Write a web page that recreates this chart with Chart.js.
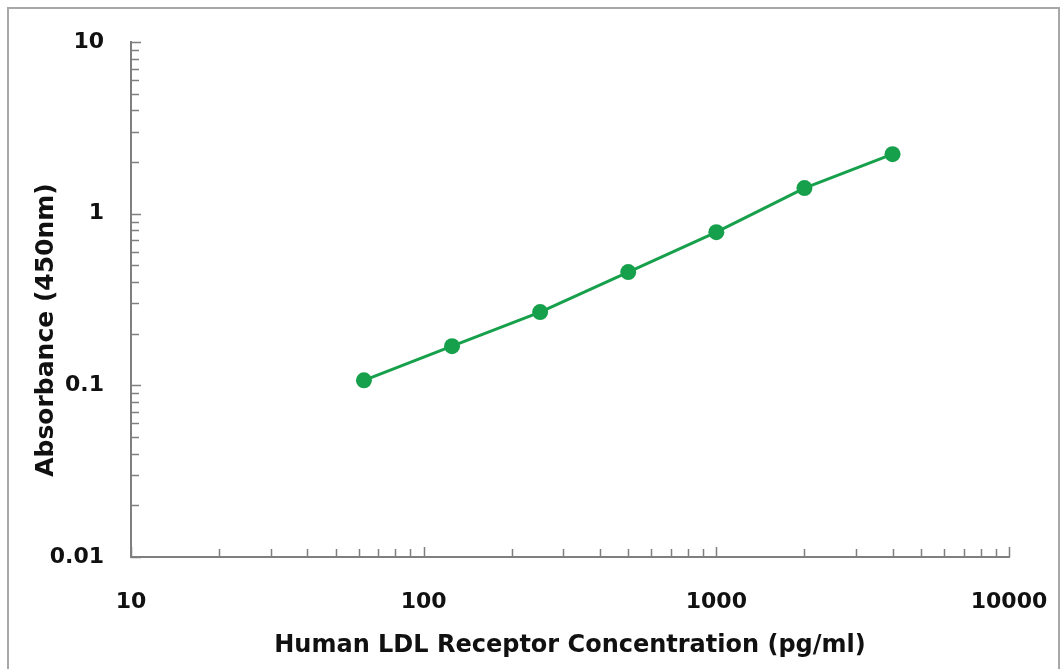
<!DOCTYPE html>
<html>
<head>
<meta charset="utf-8">
<script src="https://cdn.jsdelivr.net/npm/chart.js@4.4.1/dist/chart.umd.min.js"></script>
<style>
  html, body { margin: 0; padding: 0; background: #fff; }
  #wrap { width: 1061px; height: 669px; }
</style>
</head>
<body>
<div id="wrap"><canvas id="chart" width="1061" height="669"></canvas></div>
<script>
var concentrations = [62.5, 125, 250, 500, 1000, 2000, 4000];
var absorbance = [0.107, 0.169, 0.267, 0.457, 0.78, 1.41, 2.22];
var xTickValues = [10, 100, 1000, 10000];
var xTickLabels = ['10', '100', '1000', '10000'];
var yTickValues = [0.01, 0.1, 1, 10];
var yTickLabels = ['0.01', '0.1', '1', '10'];
var xTitle = 'Human LDL Receptor Concentration (pg/ml)';
var yTitle = 'Absorbance (450nm)';

var green = '#17a04b';
var axisGrey = '#7f7f7f';
var fontFamily = '"DejaVu Sans", Arial, sans-serif';

// 1..9 x each decade, with the powers of ten flagged as major
function logTicks(majors) {
    var ticks = [];
    for (var i = 0; i < majors.length - 1; i++) {
        ticks.push({ value: majors[i], major: true });
        for (var k = 2; k <= 9; k++) {
            ticks.push({ value: parseFloat((majors[i] * k).toPrecision(6)), major: false });
        }
    }
    ticks.push({ value: majors[majors.length - 1], major: true });
    return ticks;
}

function labelFor(values, labels) {
    return function(value) {
        var i = values.indexOf(value);
        return i >= 0 ? labels[i] : '';
    };
}

var points = [];
for (var i = 0; i < concentrations.length; i++) {
    points.push({ x: concentrations[i], y: absorbance[i] });
}

// outer frame, tick marks drawn inside the plot, rotated y title
var decorations = {
    id: 'decorations',
    beforeDraw: function(chart) {
        var ctx = chart.ctx;
        ctx.save();
        ctx.strokeStyle = '#a8a8a8';
        ctx.lineWidth = 2;
        ctx.beginPath();
        ctx.moveTo(8, chart.height + 5);
        ctx.lineTo(8, 8);
        ctx.lineTo(chart.width - 2, 8);
        ctx.lineTo(chart.width - 2, chart.height + 5);
        ctx.stroke();
        ctx.restore();
    },
    afterDraw: function(chart) {
        var ctx = chart.ctx;
        var area = chart.chartArea;
        var xs = chart.scales.x, ys = chart.scales.y;
        ctx.save();
        ctx.strokeStyle = axisGrey;
        ctx.lineWidth = 1.5;
        ctx.beginPath();
        xs.ticks.forEach(function(t) {
            var px = Math.round(xs.getPixelForValue(t.value)) + 0.5;
            ctx.moveTo(px, area.bottom);
            ctx.lineTo(px, area.bottom - (t.major ? 10 : 8));
        });
        ys.ticks.forEach(function(t) {
            var py = Math.round(ys.getPixelForValue(t.value)) + 0.5;
            ctx.moveTo(area.left, py);
            ctx.lineTo(area.left + (t.major ? 10 : 8), py);
        });
        ctx.stroke();

        ctx.translate(46, 330);
        ctx.rotate(-Math.PI / 2);
        ctx.fillStyle = '#111';
        ctx.font = 'bold 25px ' + fontFamily;
        ctx.textAlign = 'center';
        ctx.textBaseline = 'middle';
        ctx.fillText(yTitle, 0, 0);
        ctx.restore();
    }
};

new Chart(document.getElementById('chart'), {
    type: 'scatter',
    data: {
        datasets: [{
            data: points,
            showLine: true,
            borderColor: green,
            borderWidth: 3,
            backgroundColor: green,
            pointRadius: 8,
            pointBorderWidth: 0,
            pointHoverRadius: 8,
            tension: 0
        }]
    },
    options: {
        responsive: false,
        animation: false,
        layout: { padding: { left: 0, top: 42, right: 52, bottom: 0 } },
        plugins: {
            legend: { display: false },
            tooltip: { enabled: false }
        },
        scales: {
            x: {
                type: 'logarithmic',
                min: 10,
                max: 10000,
                afterBuildTicks: function(scale) { scale.ticks = logTicks(xTickValues); },
                afterFit: function(scale) {
                    scale.height = 112;
                    // let the layout padding alone decide where the plot ends
                    scale.paddingLeft = 0;
                    scale.paddingRight = 0;
                },
                grid: { display: false },
                border: { display: true, color: axisGrey, width: 2 },
                ticks: {
                    autoSkip: false,
                    maxRotation: 0,
                    padding: 24,
                    color: '#111',
                    font: { family: fontFamily, size: 22, weight: 'bold' },
                    callback: labelFor(xTickValues, xTickLabels)
                },
                title: {
                    display: true,
                    text: xTitle,
                    color: '#111',
                    font: { family: fontFamily, size: 24, weight: 'bold' },
                    padding: { top: 0, bottom: 9 }
                }
            },
            y: {
                type: 'logarithmic',
                min: 0.01,
                max: 10,
                afterBuildTicks: function(scale) { scale.ticks = logTicks(yTickValues); },
                afterFit: function(scale) {
                    scale.width = 131;
                    scale.paddingTop = 0;
                    scale.paddingBottom = 0;
                },
                grid: { display: false },
                border: { display: true, color: axisGrey, width: 2 },
                ticks: {
                    autoSkip: false,
                    padding: 19,
                    color: '#111',
                    font: { family: fontFamily, size: 22, weight: 'bold' },
                    callback: labelFor(yTickValues, yTickLabels)
                }
            }
        }
    },
    plugins: [decorations]
});
</script>
</body>
</html>
